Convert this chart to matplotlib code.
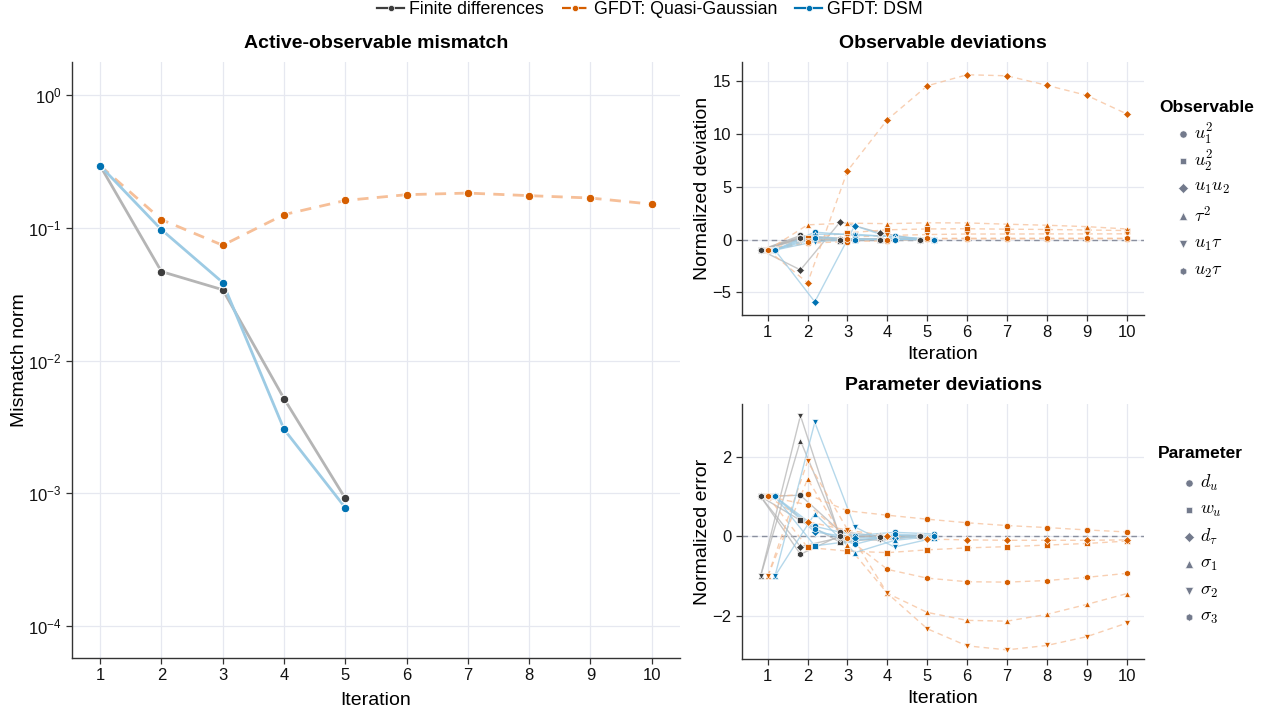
import numpy as np
import matplotlib
matplotlib.use("Agg")
import matplotlib.pyplot as plt
from matplotlib.lines import Line2D

plt.rcParams['font.family'] = ['Liberation Sans', 'DejaVu Sans']
plt.rcParams['mathtext.fontset'] = 'cm'

# ---------------- data ----------------
iterations = [1, 2, 3, 4, 5, 6, 7, 8, 9, 10]
method_names = ["Finite differences", "GFDT: Quasi-Gaussian", "GFDT: DSM"]

mismatch_fd = [0.294, 0.0469, 0.0342, 0.00518, 0.000917]
mismatch_qg = [0.294, 0.1155, 0.074, 0.126, 0.161, 0.178, 0.183, 0.175, 0.168, 0.151]
mismatch_dsm = [0.294, 0.097, 0.0388, 0.00304, 0.00078]

observable_labels = [r"$u_1^2$", r"$u_2^2$", r"$u_1u_2$", r"$\tau^2$", r"$u_1\tau$", r"$u_2\tau$"]
parameter_labels = [r"$d_u$", r"$w_u$", r"$d_\tau$", r"$\sigma_1$", r"$\sigma_2$", r"$\sigma_3$"]

obs_fd = [
    [-1, 0.38, 0.05, 0.05, 0.0],
    [-1, 0.15, -0.1, 0.0, 0.0],
    [-1, -2.88, 1.68, 0.63, 0.0],
    [-1, 0.25, 0.1, 0.02, 0.0],
    [-1, 0.0, -0.1, -0.02, 0.0],
    [-1, 0.1, 0.0, 0.0, 0.0],
]
obs_qg = [
    [-1, -0.35, -0.19, -0.13, 0.07, 0.06, 0.06, 0.07, 0.07, 0.07],
    [-1, 0.1, 0.63, 0.92, 1.0, 1.02, 0.98, 0.95, 0.9, 0.85],
    [-1, -4.1, 6.5, 11.35, 14.55, 15.6, 15.5, 14.6, 13.65, 11.9],
    [-1, 1.39, 1.55, 1.5, 1.58, 1.57, 1.45, 1.35, 1.22, 1.0],
    [-1, -0.1, 0.22, 0.38, 0.47, 0.52, 0.52, 0.53, 0.53, 0.54],
    [-1, -0.25, 0.05, 0.0, 0.1, 0.12, 0.12, 0.12, 0.12, 0.12],
]
obs_dsm = [
    [-1, 0.7, 0.4, 0.3, 0.0],
    [-1, 0.3, 0.0, 0.05, 0.0],
    [-1, -5.9, 1.3, 0.05, 0.0],
    [-1, 0.5, 0.5, 0.25, 0.02],
    [-1, -0.2, 0.05, 0.0, 0.0],
    [-1, 0.1, 0.0, 0.0, 0.0],
]

par_fd = [
    [1, 1.03, 0.12, 0.0, 0.0],
    [1, 0.4, -0.15, -0.05, 0.0],
    [1, -0.26, -0.03, 0.0, 0.0],
    [-1, 2.4, 0.0, 0.02, 0.0],
    [-1, 3.03, -0.05, -0.1, 0.0],
    [1, -0.45, 0.02, -0.02, 0.01],
]
par_qg = [
    [1, 1.05, 0.64, 0.53, 0.43, 0.34, 0.27, 0.22, 0.16, 0.11],
    [1, -0.28, -0.37, -0.41, -0.34, -0.29, -0.26, -0.22, -0.18, -0.12],
    [1, 0.37, 0.15, 0.02, -0.07, -0.09, -0.1, -0.1, -0.1, -0.09],
    [-1, 1.44, -0.23, -1.43, -1.91, -2.11, -2.13, -1.96, -1.71, -1.44],
    [-1, 1.88, 0.17, -1.43, -2.32, -2.75, -2.85, -2.74, -2.52, -2.18],
    [1, 0.79, -0.05, -0.83, -1.05, -1.14, -1.15, -1.11, -1.03, -0.93],
]
par_dsm = [
    [1, 0.25, 0.02, 0.1, 0.06],
    [1, -0.24, -0.11, 0.03, -0.04],
    [1, 0.11, -0.04, -0.04, 0.0],
    [-1, 0.57, -0.41, -0.1, 0.0],
    [-1, 2.86, 0.24, -0.27, -0.04],
    [1, 0.18, -0.2, 0.05, 0.02],
]

# ---------------- style ----------------
mk_col = {"fd": "#3d3d3d", "qg": "#d55e00", "dsm": "#0072b2"}
ln_col = {"fd": "#b5b5b5", "qg": "#f6bf98", "dsm": "#9dcbe4"}
ln_sty = {"fd": "-", "qg": (0, (4, 3)), "dsm": "-"}
offsets = {"fd": -0.18, "qg": 0.0, "dsm": 0.18}
markers = ["o", "s", "D", "^", "v", "h"]
msizes = [4.6, 4.2, 4.0, 4.6, 4.6, 4.8]
grid_col = "#e6e8f0"
spine_col = "#333333"

fig = plt.figure(figsize=(12.65, 7.15), dpi=100)


def style_axes(ax):
    ax.set_facecolor("white")
    for s in ["top", "right"]:
        ax.spines[s].set_visible(False)
    for s in ["left", "bottom"]:
        ax.spines[s].set_color(spine_col)
        ax.spines[s].set_linewidth(1.0)
    ax.grid(True, color=grid_col, linewidth=0.9)
    ax.set_axisbelow(True)
    ax.tick_params(axis="both", labelsize=12, color=spine_col, length=4, width=0.9,
                   labelcolor="#111111")


# ---------------- left panel ----------------
axL = fig.add_axes([0.0569, 0.0797, 0.4806, 0.8336])
style_axes(axL)
for key, data in [("fd", mismatch_fd), ("qg", mismatch_qg), ("dsm", mismatch_dsm)]:
    xs = iterations[:len(data)]
    axL.plot(xs, data, color=ln_col[key], linestyle=ln_sty[key], linewidth=2.0, zorder=2)
for key, data in [("fd", mismatch_fd), ("qg", mismatch_qg), ("dsm", mismatch_dsm)]:
    xs = iterations[:len(data)]
    axL.plot(xs, data, linestyle="none", marker="o", markersize=6.2,
             markerfacecolor=mk_col[key], markeredgecolor="white", markeredgewidth=0.8, zorder=3)
axL.set_yscale("log")
axL.set_ylim(10 ** -4.24, 10 ** 0.25)
axL.set_xlim(0.54, 10.46)
axL.set_xticks(iterations)
axL.set_yticks([1e-4, 1e-3, 1e-2, 1e-1, 1e0])
axL.minorticks_off()
axL.set_xlabel("Iteration", fontsize=14, labelpad=6)
axL.set_ylabel("Mismatch norm", fontsize=14)
axL.yaxis.set_label_coords(-0.073, 0.5)
axL.set_title("Active-observable mismatch", fontsize=14, fontweight="bold", pad=10)


def draw_dev(ax, series_sets):
    for key, series in series_sets:
        off = offsets[key]
        for vals in series:
            xs = np.array(iterations[:len(vals)]) + off
            ax.plot(xs, vals, color=ln_col[key], linestyle=ln_sty[key], linewidth=1.0,
                    alpha=0.75, zorder=2)
    for key, series in series_sets:
        off = offsets[key]
        for j, vals in enumerate(series):
            xs = np.array(iterations[:len(vals)]) + off
            ax.plot(xs, vals, linestyle="none", marker=markers[j], markersize=msizes[j],
                    markerfacecolor=mk_col[key], markeredgecolor="white",
                    markeredgewidth=0.5, zorder=3)
    ax.axhline(0, color="#8a8f9e", linestyle=(0, (4, 3)), linewidth=1.0, zorder=1)


# ---------------- observable panel ----------------
axO = fig.add_axes([0.5866, 0.5594, 0.3178, 0.3538])
style_axes(axO)
draw_dev(axO, [("fd", obs_fd), ("qg", obs_qg), ("dsm", obs_dsm)])
axO.set_xlim(0.355, 10.44)
axO.set_ylim(-7.15, 16.8)
axO.set_xticks(iterations)
axO.set_yticks([-5, 0, 5, 10, 15])
axO.set_xlabel("Iteration", fontsize=14, labelpad=4)
axO.set_ylabel("Normalized deviation", fontsize=14)
axO.yaxis.set_label_coords(-0.078, 0.5)
axO.set_title("Observable deviations", fontsize=14, fontweight="bold", pad=10)

# ---------------- parameter panel ----------------
axP = fig.add_axes([0.5866, 0.0783, 0.3178, 0.3566])
style_axes(axP)
draw_dev(axP, [("fd", par_fd), ("qg", par_qg), ("dsm", par_dsm)])
axP.set_xlim(0.355, 10.44)
axP.set_ylim(-3.08, 3.32)
axP.set_xticks(iterations)
axP.set_yticks([-2, 0, 2])
axP.set_xlabel("Iteration", fontsize=14, labelpad=4)
axP.set_ylabel("Normalized error", fontsize=14)
axP.yaxis.set_label_coords(-0.078, 0.5)
axP.set_title("Parameter deviations", fontsize=14, fontweight="bold", pad=10)

# ---------------- legends ----------------
top_handles = []
for key, name in zip(["fd", "qg", "dsm"], method_names):
    top_handles.append(Line2D([0], [0], color=mk_col[key], linestyle=ln_sty[key], linewidth=1.6,
                              marker="o", markersize=4.5, markerfacecolor=mk_col[key],
                              markeredgecolor="white", markeredgewidth=0.5, label=name))
fig.legend(handles=top_handles, loc="upper center", bbox_to_anchor=(0.514, 1.021), ncol=3,
           frameon=False, fontsize=12.8, handlelength=1.5, handletextpad=0.3, columnspacing=1.0,
           numpoints=1)

gray_mk = "#737a8c"
W, H = 1265.0, 715.0


def side_legend(title, labels, title_xy, marker_x, text_x, rows_y):
    fig.text(title_xy[0] / W, 1 - title_xy[1] / H, title, fontsize=12.5, fontweight="bold",
             ha="center", va="center")
    for j, lab in enumerate(labels):
        yy = 1 - rows_y[j] / H
        fig.add_artist(Line2D([marker_x / W], [yy], transform=fig.transFigure, linestyle="none",
                              marker=markers[j], markersize=msizes[j] + 0.6, markerfacecolor=gray_mk,
                              markeredgecolor="white", markeredgewidth=0.4))
        fig.text(text_x / W, yy, lab, fontsize=13, ha="left", va="center")


side_legend("Observable", observable_labels, (1207, 107), 1183, 1194,
            [134, 161, 188, 216, 244, 271])
side_legend("Parameter", parameter_labels, (1200, 454), 1189, 1200,
            [483, 510, 537, 564, 591, 617])

fig.savefig("out.png", dpi=100, facecolor="white")
